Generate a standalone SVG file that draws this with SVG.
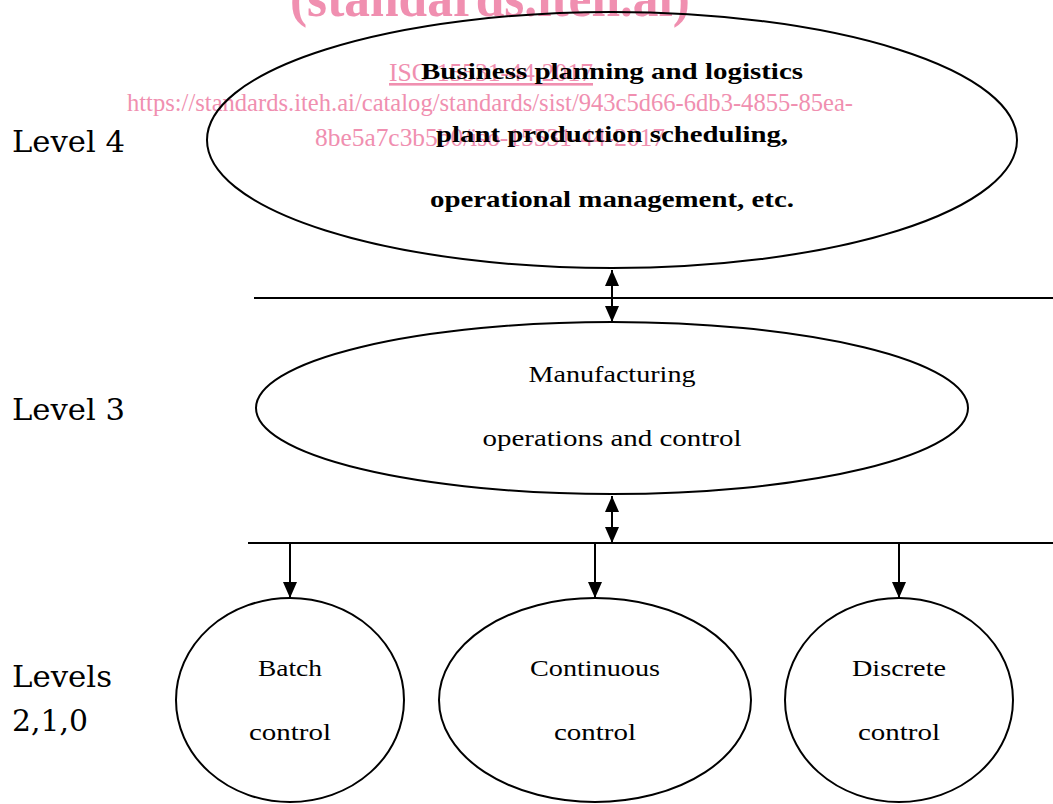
<svg xmlns="http://www.w3.org/2000/svg" width="1053" height="804" viewBox="0 0 1053 804">
<style>
.wm{fill:#f08fb0;font-family:"Liberation Serif",serif}
.lbl{font-family:"DejaVu Serif",serif;font-size:30px;fill:#000}
.t{font-family:"Liberation Serif",serif;font-size:24px;fill:#000;text-anchor:middle}
.b{font-weight:bold}
.shape{fill:none;stroke:#000;stroke-width:2}
.conn line{stroke:#000;stroke-width:2}
</style>
<defs>
<marker id="ah" viewBox="0 0 16 14" refX="16" refY="7" markerWidth="16" markerHeight="14" markerUnits="userSpaceOnUse" orient="auto-start-reverse">
<path d="M0,0 L16,7 L0,14 Z" fill="#000"/>
</marker>
</defs>
<rect width="1053" height="804" fill="#fff"/>
<g id="watermark">
<text class="wm" x="490" y="16" font-size="54" font-weight="bold" text-anchor="middle" textLength="400" lengthAdjust="spacingAndGlyphs">(standards.iteh.ai)</text>
<text class="wm" x="491" y="81" font-size="26" text-anchor="middle" text-decoration="underline" textLength="204" lengthAdjust="spacingAndGlyphs">ISO 15531-44:2017</text>
<text class="wm" x="490" y="111" font-size="26" text-anchor="middle" textLength="726" lengthAdjust="spacingAndGlyphs">https://standards.iteh.ai/catalog/standards/sist/943c5d66-6db3-4855-85ea-</text>
<text class="wm" x="490" y="146" font-size="26" text-anchor="middle" textLength="350" lengthAdjust="spacingAndGlyphs">8be5a7c3b5b0/iso-15531-44-2017</text>
</g>
<g id="level-labels">
<text class="lbl" x="12" y="152" textLength="113" lengthAdjust="spacingAndGlyphs">Level 4</text>
<text class="lbl" x="12" y="420" textLength="113" lengthAdjust="spacingAndGlyphs">Level 3</text>
<text class="lbl" x="12" y="687" textLength="100" lengthAdjust="spacingAndGlyphs">Levels</text>
<text class="lbl" x="12" y="731" textLength="76" lengthAdjust="spacingAndGlyphs">2,1,0</text>
</g>
<g id="level4">
<ellipse class="shape" cx="612" cy="140" rx="405" ry="128"/>
<text class="t b" x="612" y="79" textLength="382" lengthAdjust="spacingAndGlyphs">Business planning and logistics</text>
<text class="t b" x="612" y="142" textLength="352" lengthAdjust="spacingAndGlyphs">plant production scheduling,</text>
<text class="t b" x="612" y="207" textLength="364" lengthAdjust="spacingAndGlyphs">operational management, etc.</text>
</g>
<g id="level3">
<ellipse class="shape" cx="612" cy="408" rx="356" ry="86"/>
<text class="t" x="612" y="382" textLength="167" lengthAdjust="spacingAndGlyphs">Manufacturing</text>
<text class="t" x="612" y="446" textLength="259" lengthAdjust="spacingAndGlyphs">operations and control</text>
</g>
<g id="batch">
<ellipse class="shape" cx="290" cy="700" rx="114" ry="102"/>
<text class="t" x="290" y="676" textLength="64" lengthAdjust="spacingAndGlyphs">Batch</text>
<text class="t" x="290" y="740" textLength="82" lengthAdjust="spacingAndGlyphs">control</text>
</g>
<g id="continuous">
<ellipse class="shape" cx="595" cy="700" rx="156" ry="102"/>
<text class="t" x="595" y="676" textLength="130" lengthAdjust="spacingAndGlyphs">Continuous</text>
<text class="t" x="595" y="740" textLength="82" lengthAdjust="spacingAndGlyphs">control</text>
</g>
<g id="discrete">
<ellipse class="shape" cx="899" cy="700" rx="114" ry="102"/>
<text class="t" x="899" y="676" textLength="94" lengthAdjust="spacingAndGlyphs">Discrete</text>
<text class="t" x="899" y="740" textLength="82" lengthAdjust="spacingAndGlyphs">control</text>
</g>
<g id="connectors" class="conn">
<line x1="254" y1="298" x2="1053" y2="298"/>
<line x1="248" y1="543" x2="1053" y2="543"/>
<line x1="612" y1="270" x2="612" y2="322" marker-start="url(#ah)" marker-end="url(#ah)"/>
<line x1="612" y1="496" x2="612" y2="543" marker-start="url(#ah)" marker-end="url(#ah)"/>
<line x1="290" y1="543" x2="290" y2="598" marker-end="url(#ah)"/>
<line x1="595" y1="543" x2="595" y2="598" marker-end="url(#ah)"/>
<line x1="899" y1="543" x2="899" y2="598" marker-end="url(#ah)"/>
</g>
</svg>
